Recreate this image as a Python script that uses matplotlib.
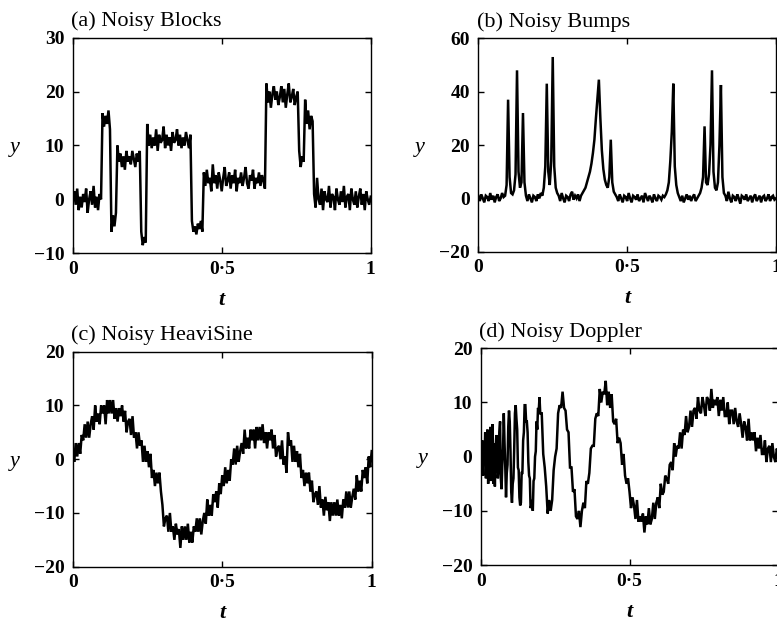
import numpy as np
import matplotlib
matplotlib.use("Agg")
import matplotlib.pyplot as plt

plt.rcParams['font.family'] = ['Liberation Serif', 'DejaVu Serif']

# ---------------- data ----------------
# (a) Noisy Blocks, t = 0 .. 1 step 0.005
blocks = [
    0, 1.5, -1, 2, -2, 0.5, -1.5, 1, -0.5, 2, -2.5, 0, 1.5, -1, 2.5, -1.5, 0.5, -2, 1, 0,
    16, 13.5, 15.5, 14, 16.5, 13,
    -6, -3, -5, -2.5,
    10, 7, 8.5, 6, 8, 5.5, 9, 7, 8, 6.5, 9, 7.5, 6, 8.5, 7, 9,
    -6, -8.5, -7, -8,
    14, 10, 12, 9.5, 11.5, 10, 13, 9, 12, 10.5, 11, 13.5, 9.5, 12, 10, 11.5, 9, 12.5, 10.5, 11,
    13, 10, 12, 9.5, 11.5, 10, 12.5, 11, 9.5, 12,
    -4, -6, -5, -6.5, -4.5, -5.5, -4, -6,
    5, 2.5, 5.5, 3, 4, 1.5, 6.5, 3, 4.5, 2, 5, 3.5, 1.5, 4, 6, 2.5, 3.5, 5, 2, 4.5, 3, 5.5,
    1.5, 4, 3, 5, 2.5, 4, 6, 3, 2, 4.5, 3.5, 5.5, 2, 4, 3, 5, 2.5, 4.5, 3.5, 2,
    21.5, 18, 20, 17, 19.5, 21, 18.5, 20, 17.5, 19, 21, 18, 20.5, 17, 19.5, 21.5, 18, 19, 20.5,
    17.5, 19, 20,
    9, 6, 8, 7,
    18.5, 14, 16.5, 13, 15.5, 14.5,
    1, -1.5, 4, 0, -1, 2, -2, 1.5, 0, -0.5, 2.5, -1.5, 1, 0.5, -2, 2, 0, -1, 1.5, -0.5, 2.5,
    -1.5, 0.5, 1, -2, 2, 0, -1, 1.5, -1.5, 0.5, 2, -1, 1, -2, 1.5, 0, -1, 0.5,
]

# (b) Noisy Bumps, t = 0 .. 1 step 0.005
bumps = [
    1, -1, 1.5, 0, -1.5, 1, 0.5, -1, 2, -0.5, 1, -1.5, 0.5, 1.5, -1, 0, 2, 0.5,
    1, 5, 37, 8, 2, 1.5, 3, 9, 48, 10, 4, 6, 32, 6, 1,
    -1, 1.5, 0, -1.5, 1, 0.5, -1, 1.5, 0, 2, 1,
    4, 12, 43, 10, 5, 14, 53, 12, 4, 2,
    1, -1, 2, 0, -1.5, 1, 0.5, -1, 1.5, 2.5, -0.5, 1, 0, 1.5, -1, 1,
    2, 3, 4, 6, 8, 10, 13, 17, 22, 30, 37, 44.5, 30, 18, 11, 7, 5, 4, 8, 22, 6, 2.5, 1.5,
    0.5, -1, 1.5, 0, -1.5, 1, 0.5, -1, 2, 0, -1.5, 1, 0.5, -0.5, 1.5, -1, 0, 1, -1.5, 2,
    0.5, -1, 1, 0, -1.5, 1.5, 0, -1, 1, 0.5, -0.5, 1, 0.5,
    1.5, 3, 6, 14, 25, 43, 12, 5, 2,
    0.5, -1, 1, -1.5, 0, 1.5, -0.5, 1, -1, 0.5, 1.5, -1, 0, 1,
    2, 4, 8, 27, 6, 5, 9, 20, 48, 10, 4, 3, 6, 20, 42.5, 8, 2,
    1, -1, 2.5, 0, -1.5, 1, 0.5, -1, 1.5, 0, -2, 1, 0.5, -0.5, 1.5, -1, 0, 1, -1.5, 0.5,
    1.5, -1, 0, 1, -1.5, 0.5, 1, -1, 0, 1.5, -1, 0.5, 1, -0.5, 0,
]

# (c) Noisy HeaviSine, t = 0 .. 1 step 0.005
heavisine = [
    1.5, -0.5, 3, 0.5, 3, 1, 4.5, 3.5, 6.5, 4, 7, 4, 6.5, 8, 5.5, 10, 7, 8.5, 6.5, 10, 8.5, 10, 6.5, 11, 8.5,
    11, 8.5, 11, 7.5, 9.5, 7, 9.5, 8, 10, 7, 9, 5, 7, 7.5, 4.5, 8, 4, 5, 2, 5, 2.5, 3.5, -0.5, 2.5, -0.5,
    1.5, -1.5, 1, -3.5, -2, -5, -2.5, -4.5, -2.5, -6, -8.5, -12.5, -11, -10.5, -13.5, -10, -13.5, -12.5,
    -15, -12, -14, -13, -16.5, -12.5, -15,
    -12.5, -15, -12, -15.5, -13.5, -15.5, -12.5, -13.5, -11, -13.5, -11, -14, -11.5, -10, -12, -7.5,
    -10.5, -8.5, -10.5, -6.5, -8, -6, -9, -4.5, -6.5,
    -3, -5, -1.5, -4.5, -2, -4, 0, -1, 2, -1, 2.5, -0.5, 1.5, 3, 1, 5.5, 2, 4, 2, 5.5, 3.5, 5.5, 2, 6, 3.5,
    6, 3.5, 6.5, 3, 5, 2, 5, 3.5, 5.5, 2, 4.5, 0.5, 2, 2.5, 0, 3.5, -1, 0.5, -2.5, 5, 2.5, 3.5, -0.5, 2.5, -0.5,
    1.5, -1.5, 1, -3.5, -2, -5, -2.5, -4.5, -2.5, -6, -4, -8, -6.5, -6, -8.5, -5, -9, -7.5, -10.5, -7,
    -9.5, -8, -11.5, -8, -10.5,
    -8, -10.5, -7.5, -10.5, -8.5, -11, -7.5, -9, -6, -9, -6, -9, -7, -5.5, -7.5, -3, -6, -4, -6, -2,
    -3.5, -1.5, -4.5, 0.5, -1.5,
    1.5,
]

# (d) Noisy Doppler: t = 0 .. 0.1975 step 0.0025, then t = 0.2 .. 1 step 0.005
doppler_early = [
    1, -2, 3, -3.5, 2, -1, 4.5, -4, 0.5, 5, -5, 3, -2, 5.5, -4.5, -1, 6, -5, 2.5, -5.5,
    1, 4, 0.5, -4, -2.5, 4.5, 6.5, -4, -6, -1.5, 1.5, 8, 2.5, -2, -7.5, -3, -1.5, 5.5, 8.5, 6.5,
    1, -6.5, -8.5, -5, -4, 1.5, 8, 9.5, 7, 5, -2, -2.5, -7.5, -9, -8.5, -3, -3, 3, 4.5, 9.5,
    9.5, 6.5, 6.5, 4.5, -1, -3.5, -4, -9.5, -9, -8, -10, -4.5, -4, 0, 1, 6.5, 5, 9, 8.5, 11,
]
doppler_late = [
    8, 8, 0.5, -2, -5.5, -10.5, -8, -10, -8, -2.5, 0, 1.5, 8, 9.5, 9, 12, 9, 8.5, 5, 4.5, -2, -2,
    -6.5, -6, -11,
    -11.5, -10, -13, -10, -8.5, -9.5, -4.5, -5, -3, 1.5, 2, 2, 7, 8, 7.5, 12.5, 10, 12, 11.5, 14,
    9.5, 12, 9, 11.5, 6.5,
    6, 7, 2.5, 3.5, 2.5, -1.5, 0.5, -3.5, -5, -4, -6.5, -9.5, -7.5, -9, -11.5, -8, -12, -11, -12,
    -10.5, -14, -11, -12.5, -9.5, -12.5,
    -11.5, -8.5, -11.5, -8.5, -7.5, -9.5, -5, -7, -6.5, -3.5, -4, -5, -1.5, -1, -2.5, 2.5, 0, 2,
    1.5, 4.5, 1.5, 5, 4, 7.5, 4.5,
    5.5, 8.5, 5.5, 8.5, 9, 7, 11, 8.5, 8, 11, 9.5, 7.5, 11, 10.5, 8.5, 12.5, 9, 10.5, 9.5, 11,
    7.5, 10.5, 8.5, 11, 7.5,
    7.5, 10, 6, 8.5, 8.5, 6, 9, 6.5, 5.5, 8, 6, 3.5, 6.5, 5.5, 3, 7, 3, 4.5, 3, 4.5, 1, 3.5, 1.5, 4, 0.5,
    0.5, 3, -1, 1.5, 2, -1, 2.5, 0, -1, 1.5, 0,
]

titles = ["(a) Noisy Blocks", "(b) Noisy Bumps", "(c) Noisy HeaviSine", "(d) Noisy Doppler"]
x_ticks = [0, 0.5, 1]
x_ticklabels = ["0", "0\u00b75", "1"]
y_ticks_list = [[-10, 0, 10, 20, 30], [-20, 0, 20, 40, 60],
                [-20, -10, 0, 10, 20], [-20, -10, 0, 10, 20]]

# ---------------- figure ----------------
t_dopp = np.concatenate([np.linspace(0, 0.1975, len(doppler_early)),
                         np.linspace(0.2, 1.0, len(doppler_late))])

series = [
    (np.linspace(0, 1, len(blocks)), np.array(blocks)),
    (np.linspace(0, 1, len(bumps)), np.array(bumps)),
    (np.linspace(0, 1, len(heavisine)), np.array(heavisine)),
    (t_dopp, np.array(doppler_early + doppler_late)),
]

rects = [
    [0.0936, 0.5928, 0.3835, 0.3466],
    [0.6156, 0.5953, 0.3831, 0.3431],
    [0.0936, 0.0889, 0.3848, 0.3457],
    [0.6187, 0.0916, 0.3830, 0.3484],
]

fig = plt.figure(figsize=(7.77, 6.22), dpi=100)


def fmt_y(v):
    return ("\u2212%d" % abs(v)) if v < 0 else "%d" % v


for k in range(4):
    ax = fig.add_axes(rects[k])
    tx, ty = series[k]
    ax.plot(tx, ty, color="black", lw=1.8, solid_joinstyle="miter")
    yt = y_ticks_list[k]
    ax.set_xlim(0, 1)
    ax.set_ylim(yt[0], yt[-1])
    ax.set_xticks(x_ticks)
    ax.set_xticklabels(x_ticklabels)
    ax.set_yticks(yt)
    ax.set_yticklabels([fmt_y(v) for v in yt])
    ax.tick_params(direction="in", length=4, width=1.0, top=True, right=True,
                   labelsize=14, colors="black")
    ax.tick_params(axis="y", pad=6)
    ax.tick_params(axis="x", pad=5.5)
    for lab in ax.get_xticklabels() + ax.get_yticklabels():
        lab.set_fontweight("bold")
    for sp in ax.spines.values():
        sp.set_linewidth(1.0)
    ax.text(-0.005, 1.03, titles[k], transform=ax.transAxes, ha="left", va="bottom",
            fontsize=16)
    ax.text(-0.195, 0.49, "y", transform=ax.transAxes, ha="center", va="center",
            fontsize=16, style="italic")
    ax.text(0.5, -0.215, "t", transform=ax.transAxes, ha="center", va="center",
            fontsize=16, style="italic", fontweight="bold")

fig.savefig("out.png", dpi=100)
